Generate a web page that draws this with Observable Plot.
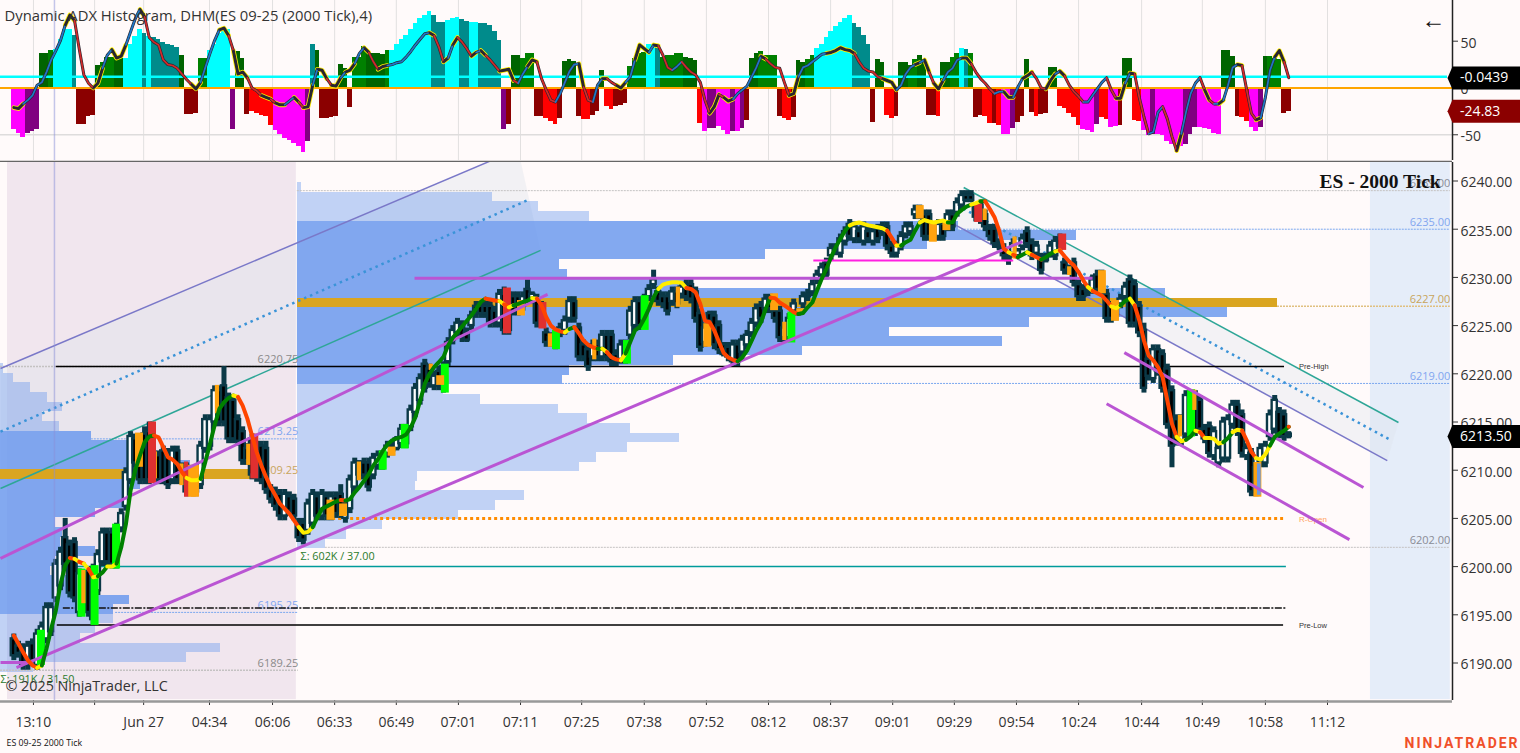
<!DOCTYPE html>
<html><head><meta charset="utf-8">
<script src="https://cdn.jsdelivr.net/npm/d3@7"></script>
<script src="https://cdn.jsdelivr.net/npm/@observablehq/plot@0.6"></script>
<style>html,body{margin:0;padding:0;background:#fffafa;overflow:hidden}svg{display:block}</style>
</head><body><div id="chart"></div>
<script>
// ---- scales (bar number, price, indicator value)
const barDomain = [-2.854, 308.07];
const priceDomain = [6186.11, 6241.92];
const adxDomain = [-77.5, 93.5];
const priceBase = 6000;

// ---- time axis
const tickBars = [4.2,17.3,27.8,41.9,55.4,68.7,81.9,95.2,108.5,121.6,135,148.3,161.6,174.9,188.2,201.4,214.7,228,241.5,254.5,268,281.3];
const tickLabels = ["13:10","","Jun 27","04:34","06:06","06:33","06:49","07:01","07:11","07:25","07:38","07:52","08:12","08:37","09:01","09:29","09:54","10:24","10:44","10:49","10:58","11:12"];
const priceTicks = [6190,6195,6200,6205,6210,6215,6220,6225,6230,6235,6240];
const adxTicks = [-50,0,50];

// ---- indicator histogram per bar
const histValues = [-44,-49,-53,-49,-46,-44,37,37,40,41,
52,62,62,56,-39,-39,-31,-29,24,27,
33,33,31,31,32,47,55,62,58,55,
54,52,49,47,45,43,35,-28,-28,-27,
31,32,40,47,58,62,62,-44,39,32,
-28,-25,-27,-29,-31,-40,-45,-50,-54,-56,
-59,-63,-69,-57,47,40,-33,-33,-32,-31,
25,21,-21,33,33,44,37,37,37,36,
40,40,46,52,56,62,69,74,78,82,
77,70,70,72,74,75,73,71,70,70,
69,69,67,60,51,-44,-39,35,35,32,
37,37,-30,-30,-33,-36,-39,-33,28,30,
28,-30,-34,-34,-29,-25,19,-20,-23,-20,
-19,-17,23,31,37,38,47,47,46,33,
35,35,37,37,33,31,29,-38,-46,-43,
-43,-41,-45,-50,-47,-47,-43,-35,32,37,
39,35,35,35,-30,-33,-35,-32,29,27,
30,35,42,47,54,60,66,70,74,78,
69,65,56,47,-37,30,27,-29,-33,-30,
27,27,24,30,35,30,-29,-29,-30,27,
27,33,37,42,41,37,-32,-29,-31,-38,
-38,-40,-50,-50,-43,-37,-31,30,-26,-31,
-28,-27,22,22,-20,-22,-27,-32,-40,-44,
-45,-48,-39,-32,-34,-42,-41,-40,32,31,
-35,-36,-45,-51,-50,-50,-51,-57,-60,-63,
-63,-60,-50,-42,-42,-43,-44,-49,-50,40,
40,34,-30,-32,-36,-42,-47,-42,34,34,
31,30,-27,-25];
const histCodes = "MMMPPPDDLC"+"CCCTBBBBDL"+"LLDDCCCCTC"+"TTTTTTDBBB"+"LLCCCCCPDD"+"BRRRRRMMMM"+"MMMPTDBBBB"+"DDBLLLDDDD"+"LCCCCCCCCC"+"TTTCCCTTCC"+"TTTTTPBDDL"+"LLBBRRRBDD"+"DBRRBBDRRB"+"BBLLLLCCTL"+"LLLLDDDRMP"+"PMMMPMPBDD"+"LLLLBRRBDD"+"LLCCCCCCCC"+"TTTTBDDRRB"+"DDLLDDBBRD"+"DLLCTLBBRR"+"BRMMPBBDBR"+"BBDDRRRRRM"+"MMPRRMMBDD"+"RRMMPMMMMM"+"MPPPMMMMMD"+"DDBRRMMPDL"+"LLBB";
const histPalette = {C:"#00ffff",T:"#008b8b",L:"#008000",D:"#006400",M:"#ff00ff",P:"#800080",R:"#ff0000",B:"#8b0000"};

// ---- indicator line per bar
const adxLine = [-21,-22,-17,-13,-8,3,6,17,30,40,
51,67,78,72,42,14,5,0,5,21,
35,41,32,34,46,60,74,84,76,54,
49,46,30,25,24,21,15,9,4,-1,
6,22,37,51,62,64,56,40,15,17,
11,0,-3,-8,-10,-12,-16,-18,-18,-14,
-10,-15,-21,-20,3,20,19,10,3,2,
11,17,19,26,37,43,38,28,20,23,
24,25,27,28,33,39,46,52,58,59,
56,44,28,32,46,54,49,42,34,38,
40,35,30,24,18,19,20,8,5,15,
23,30,28,10,-2,-13,-15,-6,6,18,
25,26,1,-13,-15,3,10,10,6,3,
0,6,12,30,46,42,38,46,45,35,
22,19,23,28,22,17,14,6,-13,-27,
-20,-7,-10,-14,-12,-6,-2,2,12,22,
34,31,26,22,21,6,-8,-6,12,22,
24,28,32,36,37,38,40,43,41,40,
37,28,21,18,17,12,10,8,6,-2,
3,15,22,25,27,30,17,5,-1,8,
17,21,30,32,32,26,17,10,5,-1,
-6,-4,-4,-10,-10,1,10,13,17,10,
0,-1,8,15,18,13,3,-4,-9,-15,
-15,-8,-1,6,11,-2,-11,-11,5,16,
15,-10,-31,-49,-47,-26,-20,-33,-52,-67,
-49,-26,-6,5,11,-2,-13,-17,-17,-13,
3,22,25,24,-2,-27,-34,-32,-10,19,
33,40,28,11];
const adxYellowBars = [0,1,11,12,17,18,21,22,23,27,38,39,44,45,47,48,49,53,54,56,57,60,62,63,65,66,68,69,71,72,75,78,79,89,92,94,98,100,104,105,106,110,111,121,126,129,130,133,134,135,137,149,150,152,153,160,166,167,174,175,176,177,178,179,186,187,188,193,195,197,198,203,204,212,213,216,217,221,222,224,236,237,239,249,255,258,262,266,270,271];

// ---- candles per bar (points above priceBase)
const highs = [193,192.25,192,192.25,192.5,193.5,194.25,196.25,196.25,200.75,
202,205,202.75,203,199.75,199.5,200,200.25,201.75,204,
204,204,204.5,206,210.25,214,213.75,213.75,214.5,215,
212,212,212.5,212.25,212.5,212.5,210.75,210.75,210.5,209,
213,215.75,215.75,218.75,218.75,220.75,218,217.75,215.75,214.5,
212.75,213.75,213,213,213,208.5,208.25,208,208,207.75,
207.5,205,205,207,208,207.75,208,207.75,207.75,207.75,
208.5,206.75,209.5,211.25,211,211.25,211.25,211.75,212,212,
213,213,213.5,214.75,214.75,216.75,219,220,221.5,221,
220.25,220.75,221.25,223.75,225,225.75,225.5,224.75,226.5,227.5,
227.5,227.5,227.5,227,228.75,229,228.5,228.5,228.5,228.5,
229.75,228.5,228.25,227.5,224.75,224.25,224.5,225.25,226,228,
228,225.25,223.5,223,223.5,223.5,224.5,224.5,224.5,222.5,
223.5,223.5,227,228,228,228.25,229.25,230.75,229,228.5,
228.5,229,229,229.5,229.75,229.75,229,226.75,225.25,226.5,
226.5,225.5,223.25,223.25,223.5,223.5,224,224.5,225.75,227.25,
227.5,228.25,228.25,227,227,225.25,226.25,227.75,226.75,228.5,
228.75,229.75,230.75,231.5,232,233.5,233.5,234.5,235.25,236,
235.75,235.25,235.75,235.25,235.25,235.5,235.75,235.75,233.75,233.75,
234.75,235.75,235.75,237.5,237.5,237,237,235.5,236,236,
237,237,238.25,239,239,239,237.75,238,237,235.5,
235.5,234,233.5,232.5,234,233,234.5,235.25,234,233.75,
232.5,232.5,233.75,234.25,234.5,232,231.25,232,229.75,229.25,
229.25,230.25,230.75,230.75,228.75,227.5,227.5,228.25,229.5,230.25,
229.75,227.5,225.25,222,223,223,222.5,221,218.75,215.75,
215.75,218.25,218.25,218.25,217.75,214.75,215,214.5,212.75,215.5,
215.75,217.25,217.25,216.25,212.75,212.25,210.75,212.75,213,216.25,
217.75,216.5,216.25,214];
const lows = [190.25,190.5,189.25,189.25,189.75,189.25,189.75,192,192.75,196.25,
197.5,199.75,196.75,196.25,194.75,196.25,194.75,194,197,200,
200,199.75,199.75,203.5,205.75,208.5,210.25,208.5,208.5,208.5,
209,208.5,208.5,208,208.5,208.5,208.5,207.25,207.25,207.25,
208,211.75,212,214.5,214.5,214.5,212.75,212.75,212.5,210.5,
210.5,209,208.75,208.5,207.5,206.5,205.75,204.75,204.75,205.25,
204.75,202.5,202.25,203.25,204,204.75,204.75,204.75,204.75,205,
205,204.5,205.5,207.75,209,209,207.75,209,210,210,
211.25,211.5,212,212.25,212.25,214,215.5,216.75,218,218.5,
218.25,218.25,218,220.75,223,223.75,223.25,223.25,224.5,225.75,
225.75,225.75,224.75,224.75,224.75,224,224,226,226,226.5,
227.25,227.25,224.75,224.75,222.75,222.75,222.5,223.75,224,225.25,
225.25,221.25,221.25,220.25,221.25,221.25,221.25,221.25,220.75,220.75,
221,221,223.5,224.5,224.5,225.25,227.5,228.75,227,226.75,
226,227,226.75,227.75,227.5,227.25,225.25,222.25,222.75,225.25,
222.5,222,221.75,221.25,220.75,220.75,221.75,222.5,223.75,224.75,
225.25,226.25,226.25,225.25,223.25,223.25,223.25,226,226,226.75,
227.5,228,229.25,229.75,229.75,231.75,232.25,232,233.25,233.75,
233.5,233.5,233.25,233.5,233.25,233.5,234.25,232.75,232,232,
232.75,234,234.25,236,236,233.75,233.75,233.75,233.75,233.75,
234.75,234.75,236.25,237,237.75,237.75,235.75,235.5,234.75,233.75,
233,232.75,231.75,231.25,232,232,232.75,233,231.75,232,
230.25,231.5,232,231.75,232.75,230.25,230.25,229,227.5,227.5,
228,228.25,228.25,228.25,225.25,225.25,225.5,226.75,227.5,224.75,
224.75,223.75,218,219.25,219,219.75,218,214.25,210.25,212.5,
212.5,213.25,213.5,213.5,213.75,212.75,211.25,211,210.25,210.75,
210.75,214.25,213.5,211.25,211,207.25,207.25,210.25,210.25,213,
213.75,213.25,213,213.25];
const bodyTops = [192.5,191.75,191.5,191.75,192,193,193.75,195.75,195.75,200.25,
201.5,203,202.25,202.5,199.25,199,199.5,199.75,201.25,203.5,
203.5,203.5,204,205.5,209.75,213.5,213.25,213.25,213.75,214,
211.5,211.5,212,211.75,212,212,210.25,210.25,210,208.5,
212.5,215.25,215.25,218.25,218.25,218.75,217.5,217.25,215.25,214,
212.25,213.25,212.5,212.5,212.25,208,207.75,207.5,207.5,207.25,
207,204.5,204.5,206.5,207.5,207.25,207.5,207.25,207.25,207.25,
207.5,206.25,209,210.75,210.5,210.75,210.75,211.25,211.5,211.5,
212.5,212.5,213.25,214.25,214.25,216.25,218.5,219.5,221,220.5,
219.75,220.25,220.75,223.25,224.5,225.25,225,224.25,226,227,
227,227,227,226.5,228.25,228.25,228,228,228,228,
228.75,228.25,227.75,227,224.25,223.75,224,224.75,225.5,227.5,
227.5,224.75,223,222.5,223,223,224,224,224,222,
223,223,226.5,227.5,227.5,227.75,228.75,229.75,228.5,228,
228,228.5,228.5,229,229.25,229.25,228.5,226.25,224.75,226.25,
226,225,223,222.75,223,223,223.5,224,225.25,226.75,
227,227.75,227.75,226.5,226.5,224.75,225.75,227.25,226.5,228,
228.25,229.25,230.25,231,231.5,233,233.25,234,234.75,235.5,
235.25,234.75,235.25,234.75,234.75,235,235.25,235.25,233.25,233.25,
234.25,235.25,235.25,237,237,236.5,236.5,235,235.5,235.5,
236.5,236.5,237.75,238.5,238.5,238.5,237.25,237.5,236.5,235,
235,233.5,233,232,233.5,232.75,234,234.75,233.5,233.25,
232,232.25,233.25,233.75,234,231.5,231,231.5,229.25,228.75,
228.75,229.75,230.25,230.25,228.25,227,227,227.75,229,229.75,
229.25,227,224.5,221.5,222.5,222.5,222,220.5,218.25,215.25,
215.25,217.75,217.75,217.75,217.25,214.25,214.5,214,212.25,215,
215.25,216.75,216.75,215.75,212.25,211.75,210.25,212.25,212.5,215.75,
217.25,216,215.75,213.75];
const bodyBottoms = [190.75,191,189.75,189.75,190.25,189.75,190.25,192.5,193.25,196.75,
198,200.25,197.25,196.75,195.25,196.75,195.25,194.5,197.5,200.5,
200.5,200.25,200.25,204,206.25,209,210.75,209,209,209,
209.5,209,209,208.5,209,209,209,207.75,207.75,207.75,
208.5,212.25,212.5,215,215,215,213.25,213.25,213,211,
211,209.5,209.25,209,208,207,206.25,205.25,205.25,205.75,
205.25,203,202.75,203.75,204.5,205.25,205.25,205.25,205.25,205.5,
205.5,205,206,208.25,209.5,209.5,208.25,209.5,210.5,210.5,
211.75,212,212.25,212.75,212.75,214.5,216,217.25,218.5,219,
218.75,218.75,218.5,221.25,223.5,224.25,223.75,223.5,225,226.25,
226.25,226.25,225.25,225.25,225.25,224.5,224.5,226.5,226.5,227,
227.5,227.5,225.25,225.25,223.25,223.25,223,224.25,224.5,225.75,
225.75,221.75,221.75,220.75,221.75,221.75,221.75,221.75,221.25,221.25,
221.5,221.5,224,225,225,225.75,228,229.25,227.5,227.25,
226.5,227.5,227.25,228.25,228,227.75,225.75,222.75,223.25,225.5,
223,222.5,222,221.75,221.25,221.25,222.25,223,224.25,225.25,
225.75,226.75,226.75,225.75,223.75,223.75,223.75,226.5,226.25,227.25,
228,228.5,229.75,230.25,230.25,232.25,232.75,232.5,233.75,234.25,
234,234,233.75,234,233.75,234,234.75,233.25,232.5,232.5,
233.25,234.5,234.75,236.5,236.5,234.25,234.25,234.25,234.25,234.25,
235.25,235.25,236.75,237.5,238,238,236.25,236,235.25,234.25,
233.5,233.25,232.25,231.75,232.5,232.25,233.25,233.5,232.25,232.5,
230.75,231.75,232.5,232.25,233.25,230.75,230.5,229.5,228,228,
228.5,228.75,228.75,228.75,225.75,225.75,226,227.25,228,225.25,
225.25,224.25,218.5,219.75,219.5,220.25,218.5,214.75,212.5,213,
213,213.75,214,214,214.25,213.25,211.75,211.5,210.75,211.25,
211.25,214.75,214,211.75,211.5,207.75,207.75,210.75,210.75,213.5,
214.25,213.75,213.5,213.5];
const candleUp = "DDDUDUUUUU"+"UDDDUDDUUU"+"DDUUUUDDDD"+"UDDDUDDDDD"+"UUUUDDDDDD"+"DDDDDDDDUD"+"DDDUUDUDUD"+"DUUUDDDUUU"+"UDUUDUUUDD"+"UDUUUUDDUD"+"DDDDUDUDDU"+"DUDDDDUUUU"+"DDDDUDUDDD"+"UUUUDUUUDD"+"DUDUDDDDUD"+"DDDDUDUUUU"+"DUDDDUUUDU"+"UUUUDUDUUD"+"UDUDUDUDDU"+"UUUUDDDDUD"+"UDUUDDDUDD"+"DDDDUUUDDU"+"DUUUDDDDDD"+"UUDDDDUUUD"+"DDDDUDDDDD"+"UUUDDDDUUU"+"UUDDUDUUUU"+"UDDD";

// ---- smoothed price line per bar
const maLine = [192.85,192,191.1,190.3,189.75,189.5,189.75,191.5,193.55,195.45,
198.2,200.1,200.9,200.8,200.5,200.3,199.75,198.9,199,199.4,
200,200,200.3,202,204.4,207.9,210,211.5,212.9,213.5,
213.6,213.4,212.4,211.35,211.1,210.65,209.8,209.2,208.95,208.95,
209.1,210.85,212.75,214.65,216.35,217.05,217.5,217.75,217.6,216.7,
215.35,213.6,211.9,210.5,209.3,208.25,207.4,206.5,206,205.5,
204.8,204.1,203.5,203.6,204.1,205.1,206,206.25,206.5,206.75,
206.9,206.85,207,207.7,208.25,208.9,209.6,210.5,211.15,212,
212.65,213.1,213.3,213.45,213.7,214.45,215.5,217.2,218.95,220,
220.7,221.2,221.75,222.95,223.75,224.3,224.9,225.5,226.05,226.75,
227.45,227.8,227.7,227.6,227.55,227.2,226.9,227.1,227.25,227.45,
227.6,227.85,227.8,227.1,225.9,225,224.6,224.4,224.3,224.65,
224.85,224.2,223.45,223,222.75,222.6,222.6,222.25,221.7,221.5,
221.4,222.1,223.3,224.5,224.85,225.7,226.75,227.95,228.8,229.25,
229.4,229.5,229.5,229.45,228.9,228.8,228.45,227.25,225.5,225.35,
224.5,223.3,222.15,221.7,221.45,221.3,221.7,222.4,223.45,224.5,
225.35,226.75,227.9,227.85,227.4,227.1,226.75,226.4,226.2,226.3,
226.9,227.4,228.65,229.85,230.9,232.1,233.15,234,234.85,235.4,
235.6,235.7,235.55,235.4,235.3,235.2,235.1,234.85,234.1,233.3,
233.3,233.65,233.9,234.85,235.7,235.95,235.8,235.7,235.8,235.9,
235.7,235.7,236.6,237,237.35,237.55,237.7,237.9,237.9,237.1,
236.25,234.85,232.95,232.6,232.35,232.1,232.35,232.6,232.35,232.1,
231.85,232.1,232.45,232.7,232.8,232.2,231.65,231.25,230.55,229.7,
229,228.6,228.35,228.1,227.6,227,226.8,227.1,227.55,227.8,
227.1,225.55,223.45,221.9,221.4,220.7,219.65,217.25,214.8,213.45,
213,213.15,213.5,214.1,213.95,213.35,213.35,213.25,212.75,212.9,
213.35,213.95,214.2,214.1,213.1,211.9,211.25,211.1,211.65,212.55,
213.45,213.8,214.1,214.5];
const maYellowBars = [5,13,15,17,20,21,37,38,39,47,61,62,63,104,106,111,118,126,130,138,139,140,141,142,143,179,180,181,182,183,184,185,186,189,194,195,196,197,198,199,205,206,213,217,223,230,235,236,239,249,250,253,255,256,257,258,261,262,266,267,268];

// ---- highlighted candle bodies: [bar, top, bottom]
const limeBodies = [[5.9,6193.4,6189.75],[14.6,6199.75,6194.75],[17.4,6200.1,6193.9],[22,6204.4,6199.75],[79.1,6212,6210],[83.8,6214.75,6212.2],[92.4,6221,6218],[116.2,6224.5,6222.5],[131.4,6223.45,6221],[135.2,6228.1,6224.5],[166.6,6226.4,6223.2],[252.2,6218.35,6213.45]];
const orangeBodies = [[26.9,6213.85,6210.3],[38.9,6210.5,6207.2],[38.2,6210.5,6207.2],[67.9,6206.9,6204.8],[70.6,6206.5,6205.2],[81,6212.4,6211.45],[91.4,6219.8,6218.8],[108.7,6227.6,6226],[148.6,6225.2,6222.75],[162.9,6228.3,6226.55],[168.5,6226.75,6226.05],[194.1,6237.45,6236.05],[196.9,6235.55,6233.65],[199.8,6235.9,6234.85],[233.1,6230.7,6228.3],[235.9,6227.6,6225.45],[266.4,6210.8,6207.2]];
const orangeSlim = [[15,6199.6,6196.15],[30.3,6211.9,6209.1],[36,6210.65,6208.4],[43.6,6218.8,6215.85],[50.3,6212.7,6210.5],[74,6210.85,6208.9],[89.4,6221,6220.35],[114.9,6224.15,6222.75],[124.4,6223.6,6221.45],[142.3,6229,6226.9],[165.1,6225.35,6223.45],[208,6237.1,6235.9],[214.4,6234.2,6231.9],[226.1,6231.1,6230.2],[249.8,6215.7,6213.45],[252.9,6218.3,6216.2]];
const redBodies = [[29.7,6215,6208.6],[51.6,6213.75,6209.1],[105.7,6228.9,6224.15],[113.3,6227.4,6224.65],[206.6,6237.6,6235.7],[224.6,6234.5,6232.8]];
const redSlim = [[37,6210.85,6207.2]];
const blueSlim = [[266.7,6210.65,6207.4]];

// ---- volume profiles: [price row, end bar]
const sessionOneLight = [[6220,-2.2],[6219,-0.07],[6218,3.6],[6217,7.2],[6216,10.4],[6215,6.1],[6214,9.8],[6194,21.3],[6193,17.5],[6192,14.3],[6191,44.3],[6190,37],[6189,4.2]];
const sessionOneDark = [[6213,16.6],[6212,25],[6211,29.3],[6210,37.8],[6208,27.1],[6207,23.9],[6206,23.9],[6205,17.5],[6204,8.9],[6203,10.4],[6202,10],[6201,17.5],[6200,8.9],[6199,7.9],[6198,13.2],[6197,13.2],[6196,24.8],[6195,21.3]];
const sessionOnePoc = [[6209,50.7]];
const sessionTwoLight = [[6239,61.6],[6238,102.6],[6237,112.3],[6236,123.3],[6218,92],[6217,99.9],[6216,116.6],[6215,122.8],[6214,132],[6213,142.5],[6212,131.4],[6211,124.8],[6210,121.1],[6209,86.4],[6208,86],[6207,109.4],[6206,103.1],[6205,95.2],[6204,78.9],[6203,71.2],[6202,66.7]];
const sessionTwoDark = [[6235,202.3],[6234,227.5],[6233,195.6],[6232,161],[6231,116.8],[6230,118.5],[6229,145.5],[6228,246.6],[6226,259.9],[6225,217.5],[6224,187.5],[6223,211.7],[6222,168.9],[6221,141.2],[6220,119],[6219,117.5]];
const sessionTwoPoc = [[6227,270.6]];
const sessionOneStart = -2.854, sessionTwoStart = 60.74;
const sessionOneSpan = [-1.35, 60.5];
const futureSpan = [290.5, 307.6];

// ---- session price levels: [price, first bar, last bar, label]
const greyLevels = [[6239,60.7,307.6,"6239.00"],[6202,66.7,307.6,"6202.00"]];
const greyLevelsLeft = [[6220.75,-2.85,60.9,"6220.75"],[6189.25,-2.85,60.9,"6189.25"]];
const blueLevels = [[6235,201.6,307.6,"6235.00"],[6219,117.5,307.6,"6219.00"]];
const blueLevelsLeft = [[6213.25,16.6,60.9,"6213.25"],[6195.25,21.8,60.9,"6195.25"]];
const goldLevels = [[6227,270.6,307.6,"6227.00"]];
const goldLevelsLeft = [[6209.25,50.7,60.9,"6209.25"]];

// ---- reference lines: [price, first bar, last bar]
const preHigh = [[6220.75,9.1,272.1]];
const preLow = [[6193.93,9.3,271.9]];
const tealLevel = [[6200,8.9,272.5]];
const dashLevel = [[6195.7,10.6,272.5]];
const rOpen = [[6205,65.7,271.9]];
const refLabels = [{bar:275.2,price:6220.75,text:"Pre-High"},{bar:275.2,price:6193.93,text:"Pre-Low"}];
const rOpenLabel = [{bar:275.2,price:6204.9,text:"R-Open"}];
const sumLabels = [{bar:61.4,price:6201.05,text:"Σ: 602K / 37.00"},{bar:-2.85,price:6188.3,text:"Σ: 191K / 31.50"}];

// ---- drawn lines: [bar a, price a, bar b, price b]
const orchidLines = [[-2.85,6200.84,114.3,6228.23],[0.57,6189.53,216,6233.72],[-2.85,6190.05,4.2,6190.05],[85.8,6229.9,231,6229.9],[237.8,6222.2,289,6208.2],[234,6216.9,286,6202.8]];
const magentaLines = [[171.2,6231.75,214,6231.75]];
const channelTeal = [[-2.85,6208.1,112.8,6232.8],[203.4,6239.33,296.5,6214.95]];
const channelViolet = [[-2.85,6220.55,107.5,6243.2],[200.6,6235.7,294.1,6211]];
const channelDotted = [[-2.85,6214,110,6238],[202.1,6237.45,295,6213.08]];
const channelFillLeft = [[-2.85,6220.55],[107.5,6243.2],[108,6243.2],[112.8,6232.8],[-2.85,6208.1]];
const channelFillRight = [[203.4,6239.33],[296.5,6214.95],[294.1,6211],[200.6,6235.7]];

const crosshairBar = 8.7;
const cyanLevel = 12, zeroLevel = 0;
const priceMark = {value:6213.5,text:"6213.50"};
const adxMarks = [{value:10.7,text:"-0.0439",fill:"#000"},{value:-24.83,text:"-24.83",fill:"#8b0000"}];

// ---- helper shapes built from the arrays above
const bars = d3.range(histValues.length);
const histRows = bars.map(i => ({i, v:histValues[i], c:histPalette[histCodes[i]]}));
const adxRows = bars.map(i => {
  const yellow = adxYellowBars.includes(i);
  return {i, v:adxLine[i],
    halo: yellow ? "#ffee00" : "none",
    c: yellow ? "#2a2630" : (adxLine[i+1] >= adxLine[i] ? "#1f78c8" : "#d42a2a")};
});
const candleRows = bars.map(i => ({i, hi:priceBase+highs[i], lo:priceBase+lows[i], top:priceBase+bodyTops[i], bot:priceBase+bodyBottoms[i], c:candleUp[i]==="U"?"#ffffff":"#000000"}));
const maRows = bars.map(i => ({i, v:priceBase+maLine[i],
  c: maYellowBars.includes(i) ? "#ffee00" : (maLine[i+1] >= maLine[i] ? "#008000" : "#ff4500")}));
const row = (lo,hi) => ([p,end]) => ({p,end,lo:p+lo,hi:p+hi});
const profRect = (rows,start,lo,hi,fill,op) => Plot.rect(rows.map(row(lo,hi)),{x1:start,x2:"end",y1:"lo",y2:"hi",fill,fillOpacity:op,shapeRendering:"crispEdges"});
const bodies = (rows,half,fill) => Plot.rect(rows,{x1:d=>d[0]-half,x2:d=>d[0]+half,y1:d=>d[2],y2:d=>d[1],fill});
const links = (rows,o) => Plot.link(rows,{x1:d=>d[0],y1:d=>d[1],x2:d=>d[2],y2:d=>d[3],...o});
const levelRule = (rows,o) => Plot.ruleY(rows,{y:d=>d[0],x1:d=>d[1],x2:d=>d[2],...o});
const levelText = (rows,fill) => Plot.text(rows,{x:d=>d[2],y:d=>d[0],text:d=>d[3],dy:-7,textAnchor:"end",fill,fontSize:11});
const polygon = (pts,fill,op) => Plot.line(pts,{x:d=>d[0],y:d=>d[1],fill,fillOpacity:op,stroke:"none",curve:"linear"});
const tag = (v,half,fill) => polygon([[307,v],[308.07,v+half],[323,v+half],[323,v-half],[308.07,v-half]],fill,1);
const pageText = (t,dx,dy,o) => Plot.text([t],{frameAnchor:"top-left",dx,dy,textAnchor:"start",lineAnchor:"middle",...o});
const baseStyle = {fontFamily:"'Open Sans',sans-serif",fontSize:"14px",background:"transparent",color:"#333",overflow:"hidden"};
const yAxis = ticks => [
  Plot.axisY({anchor:"right",ticks,tickFormat:null,tickSize:5,text:null,label:null}),
];

// ---- indicator panel
const adxPanel = Plot.plot({
  width:1520,height:162,marginTop:0,marginLeft:0,marginRight:68,marginBottom:2,
  style:baseStyle,color:{type:"identity"},
  x:{domain:barDomain,axis:null},y:{domain:adxDomain},
  marks:[
    Plot.ruleX(tickBars,{stroke:"#e2e0e0",strokeWidth:1}),
    Plot.ruleY([-50],{x1:barDomain[0],x2:barDomain[1],stroke:"#dedcdc",strokeWidth:1.5}),
    Plot.ruleX([crosshairBar],{stroke:"#8a90d8",strokeOpacity:0.5,strokeWidth:1.5}),
    Plot.rect(histRows,{x1:d=>d.i-0.5,x2:d=>d.i+0.5,y1:zeroLevel,y2:"v",fill:"c",shapeRendering:"crispEdges"}),
    Plot.ruleY([cyanLevel],{x1:barDomain[0],x2:307,stroke:"#00ffff",strokeWidth:2.5}),
    Plot.ruleY([zeroLevel],{x1:barDomain[0],x2:barDomain[1],stroke:"#ffa500",strokeWidth:2}),
    Plot.line(adxRows,{x:"i",y:"v",stroke:"halo",z:null,strokeWidth:4.6,curve:"linear"}),
    Plot.line(adxRows,{x:"i",y:"v",stroke:"#2a2630",strokeWidth:3,curve:"linear"}),
    Plot.line(adxRows,{x:"i",y:"v",stroke:"c",z:null,strokeWidth:1.7,curve:"linear"}),
    Plot.axisY({anchor:"right",ticks:adxTicks,tickSize:5,text:null,label:null}),
    Plot.axisY({anchor:"right",ticks:adxTicks,tickFormat:d=>String(d),tickSize:0,tickPadding:8,dy:2,fontSize:14,label:null}),
    Plot.ruleX([barDomain[1]],{stroke:"#222",strokeWidth:1.5}),
    ...adxMarks.flatMap(m => [tag(m.value,12.3,m.fill),
      Plot.text([m.text],{x:()=>309.7,y:()=>m.value,fill:"#fff",textAnchor:"start",fontSize:14})]),
    Plot.ruleY([adxDomain[0]],{x1:barDomain[0],x2:barDomain[1],stroke:"#666",strokeWidth:1.5,dy:1}),
    pageText("Dynamic ADX Histogram, DHM(ES 09-25 (2000 Tick),4)",4,16,{fontSize:14.8,fill:"#333"}),
    pageText("←",1421,20,{fontSize:24,fill:"#111",fontFamily:"Liberation Sans"})
  ]
});

// ---- price panel
const pricePanel = Plot.plot({
  width:1520,height:591,marginTop:0,marginLeft:0,marginRight:68,marginBottom:53,
  style:baseStyle,color:{type:"identity"},
  x:{domain:barDomain},y:{domain:priceDomain},
  marks:[
    Plot.rect([sessionOneSpan],{x1:d=>d[0],x2:d=>d[1],y1:()=>6186.2,y2:()=>priceDomain[1],fill:"#f1e6ee"}),
    Plot.rect([futureSpan],{x1:d=>d[0],x2:d=>d[1],y1:()=>6186.2,y2:()=>priceDomain[1],fill:"#e5edf9"}),
    polygon(channelFillLeft,"#dfe4ea",0.4),
    polygon(channelFillRight,"#dfe3ec",0.36),
    profRect(sessionOneLight,sessionOneStart,0.05,1.05,"#6495ed",0.4),
    profRect(sessionOneDark,sessionOneStart,0.05,1.05,"#6495ed",0.8),
    profRect(sessionOnePoc,sessionOneStart,0.05,1.05,"#daa520",1),
    profRect(sessionTwoLight,sessionTwoStart,-0.15,0.85,"#6495ed",0.4),
    profRect(sessionTwoDark,sessionTwoStart,-0.15,0.85,"#6495ed",0.8),
    profRect(sessionTwoPoc,sessionTwoStart,-0.15,0.85,"#daa520",1),
    levelRule(greyLevels,{stroke:"#c4c2c2",strokeWidth:1,strokeDasharray:"2 1"}),
    levelRule(greyLevelsLeft,{stroke:"#c4c2c2",strokeWidth:1.5,strokeDasharray:"2 1"}),
    levelRule(blueLevels,{stroke:"#7aa7ef",strokeWidth:1,strokeDasharray:"2 1"}),
    levelRule(blueLevelsLeft,{stroke:"#7aa7ef",strokeWidth:1,strokeDasharray:"2 1"}),
    levelRule(goldLevels,{stroke:"#e0c080",strokeWidth:1.5,strokeDasharray:"2 1"}),
    levelText(greyLevels,"#8a8c96"),levelText(greyLevelsLeft,"#8a8a8a"),
    levelText(blueLevels,"#82a6f0"),levelText(blueLevelsLeft,"#82a6f0"),
    levelText(goldLevels,"#c8a55c"),levelText(goldLevelsLeft,"#c8a55c"),
    links(channelTeal,{stroke:"#2ea697",strokeWidth:1.5}),
    links(channelViolet,{stroke:"#7a78c8",strokeWidth:1.5}),
    links(channelDotted,{stroke:"#3a93d8",strokeWidth:2.5,strokeDasharray:"2.5 4"}),
    levelRule(preHigh,{stroke:"#000",strokeWidth:1.5}),
    levelRule(preLow,{stroke:"#000",strokeWidth:1.5}),
    levelRule(tealLevel,{stroke:"#009a9a",strokeWidth:1.5}),
    levelRule(dashLevel,{stroke:"#111",strokeWidth:1.5,strokeDasharray:"7 1.5 2 1.5"}),
    levelRule(rOpen,{stroke:"#ff8c00",strokeWidth:3,strokeDasharray:"3 3"}),
    Plot.text(refLabels,{x:"bar",y:"price",text:"text",textAnchor:"start",fontSize:7.5,fill:"#333",fontFamily:"Liberation Sans"}),
    Plot.text(rOpenLabel,{x:"bar",y:"price",text:"text",textAnchor:"start",fontSize:8,fill:"#ffa060",fontFamily:"Liberation Sans"}),
    Plot.text(sumLabels,{x:"bar",y:"price",text:"text",textAnchor:"start",fontSize:10.8,fill:"#2a7a2a"}),
    Plot.ruleX(candleRows,{x:"i",y1:"lo",y2:"hi",stroke:"#0b3947",strokeWidth:5}),
    Plot.rect(candleRows,{x1:d=>d.i-0.55,x2:d=>d.i+0.55,y1:"bot",y2:"top",fill:"c",stroke:"#0b3947",strokeWidth:2.4}),
    bodies(limeBodies,0.85,"#00ff00"),
    bodies(orangeBodies,0.85,"#ffa30f"),
    bodies(orangeSlim,0.45,"#ffa30f"),
    bodies(redBodies,0.85,"#e03030"),
    bodies(redSlim,0.45,"#e03030"),
    bodies(blueSlim,0.4,"#6f9be0"),
    Plot.ruleX([crosshairBar],{y1:()=>priceDomain[0],y2:()=>priceDomain[1],stroke:"#8a90d8",strokeOpacity:0.5,strokeWidth:1.5}),
    links(orchidLines,{stroke:"#ba55d3",strokeWidth:3}),
    links(magentaLines,{stroke:"#ff1fe0",strokeWidth:2}),
    Plot.line(maRows,{x:"i",y:"v",stroke:"c",z:null,strokeWidth:4,curve:"linear"}),
    Plot.axisX({anchor:"bottom",ticks:tickBars,tickFormat:d=>tickLabels[tickBars.indexOf(d)],tickSize:5,tickPadding:12,fontSize:14,label:null}),
    Plot.axisY({anchor:"right",ticks:priceTicks,tickSize:5,text:null,label:null}),
    Plot.axisY({anchor:"right",ticks:priceTicks,tickFormat:d3.format(".2f"),tickSize:0,tickPadding:8,dy:2,fontSize:14,label:null}),
    Plot.ruleX([barDomain[1]],{y1:()=>priceDomain[0],y2:()=>priceDomain[1],stroke:"#222",strokeWidth:1.5}),
    Plot.ruleY([priceDomain[0]],{x1:barDomain[0],x2:barDomain[1],stroke:"#999",strokeWidth:2.5,dy:1}),
    tag(priceMark.value,1.2,"#000"),
    Plot.text([priceMark.text],{x:()=>309.7,y:()=>priceMark.value,fill:"#fff",textAnchor:"start",fontSize:14}),
    pageText("ES - 2000 Tick",1319,19,{fontSize:19.5,fontWeight:"bold",fill:"#111",fontFamily:"Liberation Serif"}),
    pageText("© 2025 NinjaTrader, LLC",5,524,{fontSize:14.3,fill:"#333"}),
    pageText("ES 09-25 2000 Tick",6,581,{fontSize:8.8,fill:"#111"}),
    pageText("NINJATRADER",1404,581,{fontSize:14,fontWeight:"bold",fill:"#f0502a",fontFamily:"Roboto"})
  ]
});
d3.select(pricePanel).selectAll("text").filter(function(){return this.textContent==="NINJATRADER"}).attr("letter-spacing","2");
document.getElementById("chart").append(adxPanel, pricePanel);
</script></body></html>
